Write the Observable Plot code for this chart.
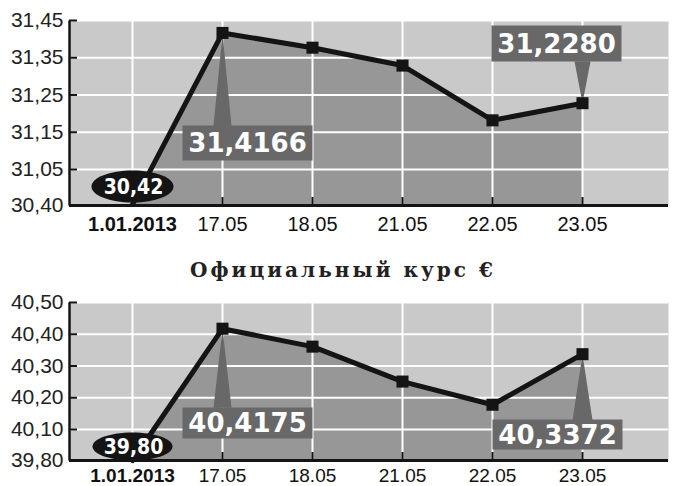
<!DOCTYPE html>
<html><head><meta charset="utf-8">
<script src="https://cdn.jsdelivr.net/npm/d3@7"></script>
<script src="https://cdn.jsdelivr.net/npm/@observablehq/plot@0.6"></script>
<style>
body{margin:0;background:#fff;}
#wrap{position:relative;width:677px;height:486px;overflow:hidden;background:#fff;}
#top,#bottom,#title{position:absolute;left:0;}
#top{top:0}
#bottom{top:270px}
#title{top:257px;left:190px;font-family:"DejaVu Serif",serif;font-weight:bold;font-size:20px;line-height:26px;color:#222;white-space:nowrap}
</style></head>
<body><div id="wrap"><div id="top"></div><div id="title"></div><div id="bottom"></div></div>
<script>
// ---- data ----
const dates = ["1.01.2013", "17.05", "18.05", "21.05", "22.05", "23.05"];
const usdValues = [30.42, 31.4166, 31.377, 31.329, 31.182, 31.2280];
const usdTicks = [30.40, 31.05, 31.15, 31.25, 31.35, 31.45];
const eurValues = [39.80, 40.4175, 40.361, 40.251, 40.178, 40.3372];
const eurTicks = [39.80, 40.10, 40.20, 40.30, 40.40, 40.50];
const titleText = "Официальный курс €";

// title: spread letters to the reference's width
(function () {
  const el = document.getElementById("title");
  el.textContent = titleText;
  const natural = el.getBoundingClientRect().width;
  const target = 303, n = [...titleText].length;
  el.style.letterSpacing = Math.max(0, (target - natural) / (n - 1)) + "px";
})();

const fmt = (d, n) => d.toFixed(n).replace(".", ",");
const BG = "#c9c9c9", AREA = "#979797", BOX = "#686868", INK = "#141414";
const SANS = "Liberation Sans, Arial, sans-serif";
const NARROW = "Liberation Sans Narrow, DejaVu Sans Condensed, Arial Narrow, sans-serif";

const rectSym = (x, y, w, h) => ({draw(c) { c.moveTo(x, y); c.lineTo(x + w, y); c.lineTo(x + w, y + h); c.lineTo(x, y + h); c.closePath(); }});
const triSym = (x0, x1, yb) => ({draw(c) { c.moveTo(0, 0); c.lineTo(x0, yb); c.lineTo(x1, yb); c.closePath(); }});
const ellSym = (rx, ry) => ({draw(c) {
  const k = 0.5523;
  c.moveTo(rx, 0);
  c.bezierCurveTo(rx, ry * k, rx * k, ry, 0, ry);
  c.bezierCurveTo(-rx * k, ry, -rx, ry * k, -rx, 0);
  c.bezierCurveTo(-rx, -ry * k, -rx * k, -ry, 0, -ry);
  c.bezierCurveTo(rx * k, -ry, rx, -ry * k, rx, 0);
  c.closePath();
}});

function panel({values, ticks, yRange, height, marginTop, marginBottom, labelPad, labelSize, callouts, ell}) {
  const data = dates.map((d, i) => ({date: d, value: values[i]}));
  const width = 677, marginLeft = 69, marginRight = 9;
  const W = width - marginLeft - marginRight, H = height - marginTop - marginBottom;
  const marks = [
    Plot.frame({fill: BG}),
    Plot.areaY(data, {x: "date", y1: ticks[0], y2: "value", fill: AREA}),
    Plot.gridX({stroke: "white", strokeOpacity: 1, strokeWidth: 2}),
    Plot.gridY({ticks, stroke: "white", strokeOpacity: 1, strokeWidth: 2}),
    Plot.tickX(dates, {x: d => d, insetTop: H - 8, stroke: INK, strokeWidth: 2}),
    Plot.tickY(ticks, {y: d => d, insetRight: W - 8, stroke: INK, strokeWidth: 2}),
    Plot.ruleY([ticks[0]], {stroke: INK, strokeWidth: 3}),
    Plot.frame({stroke: INK, strokeWidth: 2.5, strokeDasharray: `0,${2 * W + H},${H + 2}`}),
    Plot.axisY({ticks, tickFormat: d => fmt(d, 2), tickSize: 0, tickPadding: 6, fontSize: 21, fontFamily: SANS, fill: "#222", label: null}),
    Plot.axisX([dates[0]], {tickSize: 0, tickPadding: labelPad, fontSize: labelSize, fontWeight: "bold", fontFamily: SANS, fill: "#111", label: null}),
    Plot.axisX(dates.slice(1), {tickSize: 0, tickPadding: labelPad, fontSize: labelSize, fontFamily: SANS, fill: "#111", label: null}),
    Plot.line(data, {x: "date", y: "value", stroke: INK, strokeWidth: 5, strokeLinejoin: "round"})
  ];
  for (const c of callouts) {
    const p = [data[c.i]];
    marks.push(
      Plot.dot(p, {x: "date", y: "value", symbol: triSym(-c.half, c.half, c.base), fill: BOX, stroke: "none"}),
      Plot.dot(p, {x: "date", y: "value", symbol: rectSym(...c.box), fill: BOX, stroke: "none"}),
      Plot.text(p, {x: "date", y: "value", text: d => fmt(d.value, 4), dx: c.box[0] + c.box[2] / 2, dy: c.box[1] + c.box[3] / 2 + 1, fill: "white", fontSize: 26, fontWeight: "bold", fontFamily: "DejaVu Sans, sans-serif"})
    );
  }
  marks.push(Plot.dot(data.slice(1), {x: "date", y: "value", symbol: "square", r: 6.8, fill: INK, stroke: "none"}));
  const first = [data[0]];
  marks.push(
    Plot.dot(first, {x: "date", y: "value", symbol: ellSym(ell.rx, ell.ry), dx: ell.dx, dy: ell.dy, fill: INK, stroke: "none"}),
    Plot.text(first, {x: "date", y: "value", text: d => fmt(d.value, 2), dx: ell.dx + 1, dy: ell.dy + 1, fill: "white", fontSize: 21, fontWeight: "bold", fontFamily: NARROW})
  );
  return Plot.plot({
    width, height, marginLeft, marginRight, marginTop, marginBottom,
    style: {background: "transparent", fontFamily: SANS, color: "#111", overflow: "visible"},
    x: {type: "point", domain: dates, range: [130, 584], padding: 0},
    y: {type: "linear", domain: [ticks[0], ticks[1], ticks[ticks.length - 1]], range: yRange},
    marks
  });
}

document.getElementById("top").append(panel({
  values: usdValues, ticks: usdTicks,
  height: 240, marginTop: 20, marginBottom: 35, yRange: [205, 169, 20], labelPad: 11, labelSize: 20,
  callouts: [
    {i: 1, box: [-40, 92.6, 130, 35], half: 9, base: 93},
    {i: 5, box: [-91, -77.7, 130, 36], half: 8, base: -42}
  ],
  ell: {rx: 41, ry: 16, dx: 0, dy: -18}
}));

document.getElementById("bottom").append(panel({
  values: eurValues, ticks: eurTicks,
  height: 216, marginTop: 32, marginBottom: 26, yRange: [190, 159, 32], labelPad: 8, labelSize: 19,
  callouts: [
    {i: 1, box: [-40, 78.8, 130, 31], half: 9, base: 79},
    {i: 5, box: [-90, 65.3, 130, 30], half: 10, base: 66}
  ],
  ell: {rx: 40, ry: 14, dx: 0, dy: -14}
}));
</script>
</body></html>
